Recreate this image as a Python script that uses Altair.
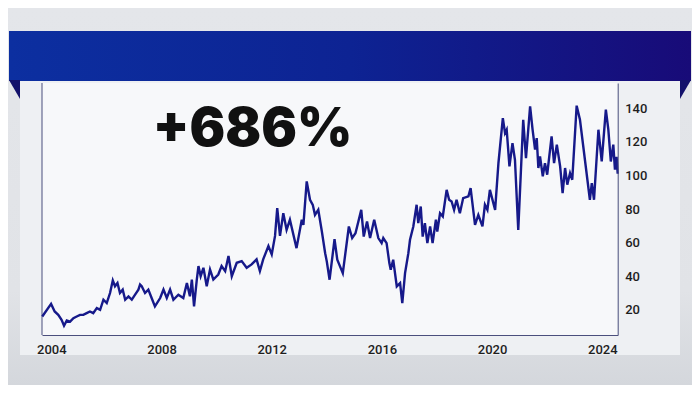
import altair as alt
import pandas as pd

# ---- data ----
years = [
    2003.67, 2003.99, 2004.12, 2004.25, 2004.37, 2004.46, 2004.56, 2004.68, 2004.80, 2004.92,
    2005.04, 2005.16, 2005.28, 2005.40, 2005.52, 2005.65, 2005.77, 2005.89, 2006.01, 2006.13,
    2006.23, 2006.31, 2006.40, 2006.49, 2006.59, 2006.68, 2006.80, 2006.92, 2007.04, 2007.16,
    2007.22, 2007.28, 2007.40, 2007.52, 2007.64, 2007.76, 2007.95, 2008.07, 2008.19, 2008.31,
    2008.43, 2008.61, 2008.79, 2008.92, 2009.03, 2009.10, 2009.18, 2009.28, 2009.34, 2009.42,
    2009.52, 2009.64, 2009.76, 2009.88, 2010.06, 2010.18, 2010.31, 2010.43, 2010.55, 2010.73,
    2010.91, 2011.09, 2011.27, 2011.45, 2011.57, 2011.69, 2011.88, 2012.00, 2012.12, 2012.20,
    2012.30, 2012.42, 2012.54, 2012.66, 2012.90, 2013.09, 2013.15, 2013.27, 2013.39, 2013.49,
    2013.57, 2013.69, 2013.82, 2013.94, 2014.00, 2014.10, 2014.28, 2014.38, 2014.58, 2014.80,
    2014.92, 2015.04, 2015.25, 2015.34, 2015.46, 2015.57, 2015.72, 2015.87, 2015.99, 2016.05,
    2016.17, 2016.27, 2016.32, 2016.41, 2016.54, 2016.66, 2016.74, 2016.84, 2016.96, 2017.02,
    2017.14, 2017.26, 2017.32, 2017.41, 2017.48, 2017.56, 2017.65, 2017.75, 2017.84, 2017.96,
    2018.01, 2018.11, 2018.21, 2018.35, 2018.44, 2018.53, 2018.62, 2018.71, 2018.83, 2018.95,
    2019.14, 2019.22, 2019.38, 2019.50, 2019.65, 2019.74, 2019.83, 2019.92, 2020.11, 2020.23,
    2020.39, 2020.47, 2020.53, 2020.63, 2020.74, 2020.83, 2020.95, 2021.13, 2021.23, 2021.38,
    2021.47, 2021.56, 2021.62, 2021.68, 2021.74, 2021.84, 2021.92, 2022.00, 2022.16, 2022.25,
    2022.35, 2022.47, 2022.56, 2022.65, 2022.73, 2022.83, 2022.91, 2023.07, 2023.19, 2023.55,
    2023.62, 2023.70, 2023.86, 2023.98, 2024.13, 2024.22, 2024.31, 2024.40, 2024.46, 2024.52,
    2024.56,
]
values = [
    16, 23.5, 19, 17, 14, 10.5, 13.6, 13, 15, 16,
    17, 17, 18, 19, 18, 21, 20, 26, 24, 30,
    37.5, 34, 36, 30, 32, 26, 28, 26, 29, 32,
    35, 34, 30, 32, 27, 22, 27, 32, 27, 32,
    26, 29, 27, 36, 28, 38, 22, 38, 46, 40,
    45, 34, 44, 38, 41, 46, 43, 52, 40, 48,
    49, 45, 47, 50, 43, 50, 58, 53, 64, 80.5,
    64, 77.5, 67.6, 73.6, 56.7, 73.6, 70.6, 96.4, 85.5, 82.5,
    76.5, 79.5, 66.6, 53.7, 48.7, 37.9, 62, 49.8, 41.8, 69.6,
    62.7, 65.6, 79.5, 63.6, 72.6, 62.7, 73.6, 62.7, 59.7, 62.7,
    59.7, 47.8, 43.9, 49.8, 33.9, 35.9, 24.0, 41.8, 53.7, 61.7,
    69.6, 82.5, 71.6, 81.5, 63.6, 71.6, 59.7, 69.6, 59.7, 73.6,
    66.6, 77.5, 75.6, 91.4, 85.5, 84.5, 79.5, 85.5, 77.5, 86.5,
    87.5, 92.4, 70.6, 76.5, 69.6, 82.5, 79.5, 91.4, 79.5, 107.3,
    134.1, 125.2, 127.2, 105.4, 119.2, 109.3, 67.6, 133.1, 110.3, 141.1,
    127.2, 115.3, 122.2, 104.4, 111.3, 99.4, 107.3, 100.4, 123.2, 107.3,
    118.3, 105.4, 89.5, 104.4, 94.5, 101.4, 97.4, 141.5, 133.1, 85.5,
    95.4, 85.5, 127.2, 108.3, 139.1, 127.2, 108.3, 118.3, 103.4, 111.0,
    101.0,
]
x_ticks = [2004, 2008, 2012, 2016, 2020, 2024]
y_ticks = [20, 40, 60, 80, 100, 120, 140]
headline = "+686%"

W = 575.7
H = 252.0

df = pd.DataFrame({"year": years, "value": values})
one = pd.DataFrame({"k": [0]})

label_font = "Roboto, sans-serif"

backdrop = alt.Chart(one).mark_rect(
    color=alt.Gradient(
        gradient="linear", x1=0, x2=0, y1=0, y2=1,
        stops=[alt.GradientStop(offset=0, color="#e4e6ea"),
               alt.GradientStop(offset=0.75, color="#e1e3e7"),
               alt.GradientStop(offset=1, color="#d4d7dc")],
    )
).encode(x=alt.value(-34), x2=alt.value(650), y=alt.value(-75), y2=alt.value(302))

panel = alt.Chart(one).mark_rect(color="#eef0f3").encode(
    x=alt.value(-22), x2=alt.value(638), y=alt.value(-3), y2=alt.value(272)
)
plotbg = alt.Chart(one).mark_rect(color="#f7f8fa").encode(
    x=alt.value(0), x2=alt.value(W), y=alt.value(0), y2=alt.value(H)
)
leftrule = alt.Chart(one).mark_rule(color="#4b4f7d", strokeWidth=1).encode(
    x=alt.value(0), y=alt.value(0), y2=alt.value(H)
)

line = alt.Chart(df).mark_line(color="#16198a", strokeWidth=2.4).encode(
    x=alt.X("year:Q",
            scale=alt.Scale(domain=[2003.66, 2024.56], nice=False, zero=False),
            axis=alt.Axis(values=x_ticks, format="d", title=None, ticks=False, grid=False,
                          labelPadding=8, labelFont=label_font, labelFontSize=13,
                          labelFontWeight=500,
                          labelColor="#1e1e1e", domainColor="#4b4f7d", labelFlush=False,
                          zindex=1)),
    y=alt.Y("value:Q",
            scale=alt.Scale(domain=[5, 155], nice=False, zero=False),
            axis=alt.Axis(orient="right", values=y_ticks, title=None, ticks=False, grid=False,
                          labelPadding=7, labelFont=label_font, labelFontSize=13,
                          labelFontWeight=500,
                          labelColor="#1e1e1e", domainColor="#4b4f7d", zindex=1)),
)

banner = alt.Chart(one).mark_rect(
    color=alt.Gradient(
        gradient="linear", x1=0, x2=1, y1=0, y2=0,
        stops=[alt.GradientStop(offset=0, color="#0c2fa0"),
               alt.GradientStop(offset=0.5, color="#0d2393"),
               alt.GradientStop(offset=1, color="#180b78")],
    )
).encode(x=alt.value(-33), x2=alt.value(649), y=alt.value(-52), y2=alt.value(-2))

fold_left = alt.Chart(one).mark_point(
    shape="M -0.58 -1 L 0.58 -1 L 0.58 1 Z", size=361, filled=True,
    color="#13116b", opacity=1, strokeWidth=0
).encode(x=alt.value(-27.5), y=alt.value(6.5))
fold_right = alt.Chart(one).mark_point(
    shape="M -0.58 -1 L 0.58 -1 L -0.58 1 Z", size=361, filled=True,
    color="#13116b", opacity=1, strokeWidth=0
).encode(x=alt.value(643.5), y=alt.value(6.5))

title = alt.Chart(one).mark_text(
    text=headline, font="Inter, Montserrat, Roboto, sans-serif", fontSize=53,
    fontWeight=900, color="#111111", align="center", baseline="alphabetic"
).encode(x=alt.value(210.5), y=alt.value(63))

chart = alt.layer(
    backdrop, panel, plotbg, leftrule, line, banner, fold_left, fold_right, title
).properties(
    width=W, height=H,
    autosize=alt.AutoSizeParams(type="none"),
    padding={"left": 34, "top": 75, "right": 74.3, "bottom": 50},
    background="#e1e3e7",
).configure_view(strokeWidth=0)

chart.save("out.html", embed_options={"renderer": "svg", "actions": False})
